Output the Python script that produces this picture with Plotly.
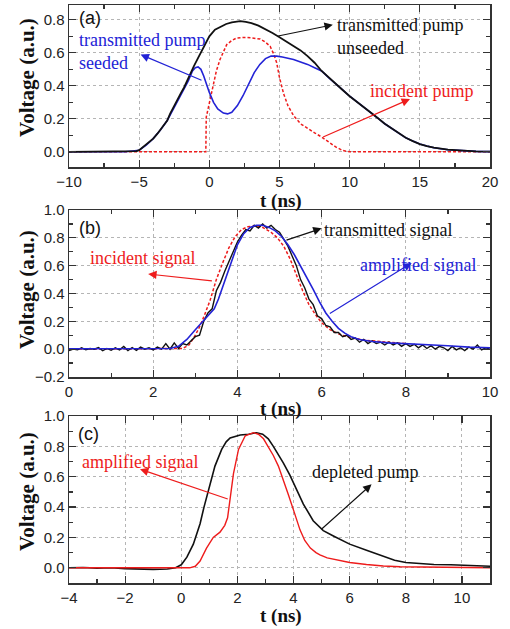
import plotly.graph_objects as go

# ---------------- Panel (a) ----------------
a_t_unseeded = [-10, -8, -6, -5.2, -5, -4.7, -4.4, -4, -3.7, -3.4, -3, -2.8, -2.4, -2, -1.8, -1.5, -1.1,
                -0.8, -0.5, -0.2, 0, 0.4, 0.8, 1.2, 1.6, 2, 2.2, 2.6, 3, 3.5, 4, 4.5, 5, 5.5, 6, 6.5,
                7, 7.5, 8, 8.5, 9, 9.5, 10, 10.5, 11, 11.5, 12, 12.5, 13, 13.5, 14, 14.5, 15, 15.5,
                16, 17, 18, 19, 20]
a_v_unseeded = [0, 0, 0.001, 0.004, 0.01, 0.03, 0.05, 0.08, 0.11, 0.145, 0.19, 0.23, 0.3, 0.36, 0.39,
                0.45, 0.52, 0.57, 0.62, 0.67, 0.70, 0.74, 0.76, 0.775, 0.785, 0.79, 0.792, 0.788, 0.78,
                0.765, 0.745, 0.72, 0.695, 0.67, 0.64, 0.615, 0.58, 0.54, 0.49, 0.45, 0.415, 0.375,
                0.337, 0.305, 0.27, 0.24, 0.205, 0.17, 0.14, 0.11, 0.085, 0.065, 0.047, 0.035, 0.025,
                0.013, 0.006, 0.003, 0.001]

a_t_seeded = [-10, -6, -5, -4.5, -4, -3.5, -3, -2.5, -2, -1.5, -1.2, -1, -0.8, -0.6, -0.4, -0.2, 0,
              0.3, 0.6, 1, 1.3, 1.6, 2, 2.4, 2.8, 3.2, 3.6, 4, 4.4, 4.8, 5.2, 5.5, 6, 6.5, 7, 7.5, 8,
              8.5, 9, 9.5, 10, 10.5, 11, 11.5, 12, 12.5, 13, 13.5, 14, 14.5, 15, 15.5, 16, 17, 18, 19, 20]
a_v_seeded = [0, 0, 0.01, 0.04, 0.08, 0.13, 0.19, 0.27, 0.35, 0.43, 0.49, 0.51, 0.515, 0.5, 0.46, 0.41,
              0.36, 0.3, 0.26, 0.235, 0.23, 0.24, 0.28, 0.34, 0.41, 0.48, 0.53, 0.565, 0.58, 0.58,
              0.575, 0.57, 0.56, 0.545, 0.53, 0.51, 0.49, 0.45, 0.415, 0.375, 0.337, 0.305, 0.27,
              0.24, 0.205, 0.17, 0.14, 0.11, 0.085, 0.065, 0.047, 0.035, 0.025, 0.013, 0.006, 0.003, 0.001]

a_t_incident = [-10, -0.25, -0.22, 0, 0.29, 0.5, 0.76, 1.0, 1.24, 1.6, 1.95, 2.67, 3.2, 3.62, 4.0, 4.33,
                4.6, 4.8, 5.0, 5.3, 5.6, 6, 6.5, 7, 7.5, 8, 8.5, 9, 9.5, 10, 20]
a_v_incident = [0, 0, 0.21, 0.3, 0.4, 0.49, 0.56, 0.61, 0.65, 0.675, 0.69, 0.694, 0.69, 0.684, 0.665,
                0.64, 0.59, 0.54, 0.45, 0.35, 0.28, 0.22, 0.17, 0.14, 0.115, 0.09, 0.06, 0.03, 0.008, 0, 0]

# ---------------- Panel (b) ----------------
b_t_incident = [0, 2.5, 2.7, 2.85, 3.0, 3.1, 3.2, 3.35, 3.5, 3.65, 3.8, 3.95, 4.1, 4.25, 4.4, 4.6, 4.8,
                4.95, 5.1, 5.25, 5.4, 5.55, 5.7, 5.85, 6.0, 6.2, 6.4, 6.6, 7.0, 7.5, 8.0]
b_v_incident = [0, 0, 0.005, 0.03, 0.1, 0.16, 0.23, 0.35, 0.5, 0.62, 0.73, 0.81, 0.86, 0.88, 0.885,
                0.875, 0.84, 0.8, 0.74, 0.65, 0.53, 0.42, 0.32, 0.25, 0.19, 0.14, 0.11, 0.09, 0.065,
                0.05, 0.04]

b_t_amplified = [0, 1, 2, 2.4, 2.6, 2.8, 3.0, 3.2, 3.35, 3.45, 3.55, 3.7, 3.85, 4.0, 4.15, 4.3, 4.45,
                 4.6, 4.75, 4.9, 5.05, 5.2, 5.35, 5.5, 5.65, 5.8, 5.95, 6.1, 6.25, 6.4, 6.55, 6.7, 6.9,
                 7.2, 7.6, 8, 8.5, 9, 9.5, 10]
b_v_amplified = [0.003, 0.003, 0.003, 0.005, 0.02, 0.07, 0.14, 0.21, 0.26, 0.29, 0.36, 0.49, 0.63, 0.75,
                 0.83, 0.875, 0.89, 0.89, 0.875, 0.85, 0.81, 0.75, 0.68, 0.6, 0.52, 0.43, 0.34, 0.26,
                 0.2, 0.15, 0.115, 0.09, 0.07, 0.055, 0.045, 0.04, 0.033, 0.025, 0.015, 0.01]

b_t_transmitted = [round(i * 0.1, 1) for i in range(101)]
b_v_transmitted = [-0.01, 0.0, -0.005, 0.01, -0.005, 0.005, 0.0, 0.012, -0.01, 0.005,
                   -0.008, 0.01, -0.005, 0.02, -0.01, 0.012, -0.008, 0.015, 0.0, 0.01,
                   -0.005, 0.015, 0.0, 0.04, 0.0, 0.045, 0.005, 0.04, 0.03, 0.06,
                   0.09, 0.1, 0.2, 0.26, 0.29, 0.42, 0.48, 0.56, 0.63, 0.7,
                   0.77, 0.82, 0.86, 0.85, 0.89, 0.87, 0.9, 0.87, 0.89, 0.86,
                   0.84, 0.79, 0.74, 0.67, 0.6, 0.5, 0.44, 0.36, 0.32, 0.24,
                   0.22, 0.17, 0.16, 0.12, 0.12, 0.09, 0.1, 0.07, 0.08, 0.05,
                   0.07, 0.04, 0.06, 0.04, 0.05, 0.03, 0.05, 0.03, 0.045, 0.02,
                   0.04, 0.02, 0.035, 0.01, 0.03, 0.005, 0.025, 0.0, 0.02, 0.01,
                   -0.01, 0.02, -0.005, 0.01, -0.01, 0.015, 0.0, 0.03, -0.005, 0.01, 0.0]

# ---------------- Panel (c) ----------------
c_t_pump = [-4, -3.5, -3, -2.5, -2, -1.5, -1, -0.5, -0.2, 0, 0.2, 0.43, 0.67, 0.81, 1.02, 1.2, 1.44,
            1.6, 1.74, 2.1, 2.4, 2.68, 2.9, 3.1, 3.28, 3.64, 3.87, 4.11, 4.35, 4.7, 5.06, 5.42, 6.0,
            6.6, 7.2, 7.6, 8.0, 8.4, 9.0, 9.6, 10.2, 11]
c_v_pump = [0.0, 0.002, -0.002, 0.0, -0.005, -0.008, -0.01, -0.008, 0.0, 0.02, 0.07, 0.156, 0.29,
            0.4, 0.54, 0.67, 0.78, 0.83, 0.855, 0.875, 0.88, 0.89, 0.88, 0.85, 0.8, 0.69, 0.61,
            0.51, 0.42, 0.31, 0.245, 0.21, 0.156, 0.116, 0.075, 0.05, 0.035, 0.028, 0.022, 0.02,
            0.016, 0.01]

c_t_signal = [-4, 0.3, 0.5, 0.67, 0.9, 1.14, 1.38, 1.55, 1.65, 1.74, 1.86, 2.04, 2.28, 2.57, 2.75,
              2.93, 3.1, 3.28, 3.46, 3.64, 3.82, 4.0, 4.12, 4.23, 4.4, 4.6, 4.8, 4.94, 5.2, 5.42, 6,
              6.6, 7.2, 7.8, 9, 11]
c_v_signal = [0, 0, 0.01, 0.045, 0.13, 0.2, 0.235, 0.28, 0.33, 0.45, 0.62, 0.78, 0.87, 0.89, 0.88,
              0.85, 0.8, 0.74, 0.67, 0.58, 0.48, 0.38, 0.31, 0.25, 0.18, 0.13, 0.1, 0.085, 0.065,
              0.056, 0.035, 0.022, 0.012, 0.007, 0.003, 0]

BLACK = "#111111"
BLUE = "#2323d6"
RED = "#ee1c1c"

fig = go.Figure()

def line(x, y, color, xa, ya, dash="solid", width=1.6):
    fig.add_trace(go.Scatter(x=x, y=y, mode="lines", xaxis=xa, yaxis=ya,
                             line=dict(color=color, width=width, dash=dash), showlegend=False,
                             hoverinfo="skip"))

line(a_t_incident, a_v_incident, RED, "x", "y", dash="3px,2px", width=1.5)
line(a_t_seeded, a_v_seeded, BLUE, "x", "y")
line(a_t_unseeded, a_v_unseeded, BLACK, "x", "y", width=1.8)

line(b_t_incident, b_v_incident, RED, "x2", "y2", dash="3px,2px", width=1.5)
line(b_t_transmitted, b_v_transmitted, BLACK, "x2", "y2", width=1.4)
line(b_t_amplified, b_v_amplified, BLUE, "x2", "y2")

line(c_t_pump, c_v_pump, BLACK, "x3", "y3", width=1.6)
line(c_t_signal, c_v_signal, RED, "x3", "y3", width=1.4)

XD = [69 / 510, 490 / 510]
def ydom(top, bot):
    return [1 - bot / 629, 1 - top / 629]

tickfont = dict(family="Liberation Sans, Arial, sans-serif", size=15, color="#222")
common = dict(showline=True, mirror="allticks", linecolor="#333", linewidth=1.5,
              ticks="inside", ticklen=7, tickwidth=1.2, tickcolor="#333",
              showgrid=True, gridcolor="#b5b5b5", griddash="dot", gridwidth=1,
              zeroline=False, tickfont=tickfont, automargin=False)
minor_x = lambda d: dict(dtick=d, ticks="inside", ticklen=4, tickcolor="#333", showgrid=False)

fig.update_layout(
    width=510, height=629, margin=dict(l=0, r=0, t=0, b=0, autoexpand=False),
    paper_bgcolor="white", plot_bgcolor="white",
    xaxis=dict(domain=XD, anchor="y", range=[-10, 20], tick0=-10, dtick=5, minor=minor_x(2.5), **common),
    yaxis=dict(domain=ydom(5, 167), anchor="x", range=[-0.092, 0.89], tick0=0, dtick=0.2,
               tickformat=".1f", minor=minor_x(0.1), **common),
    xaxis2=dict(domain=XD, anchor="y2", range=[0, 10], tick0=0, dtick=2, minor=minor_x(1), **common),
    yaxis2=dict(domain=ydom(210, 377), anchor="x2", range=[-0.2, 1.0], tick0=0, dtick=0.2,
                tickformat=".1f", minor=minor_x(0.1), **common),
    xaxis3=dict(domain=XD, anchor="y3", range=[-4, 11], tick0=0, dtick=2, minor=minor_x(1), **common),
    yaxis3=dict(domain=ydom(416, 583), anchor="x3", range=[-0.1, 1.0], tick0=0, dtick=0.2,
                tickformat=".1f", minor=minor_x(0.1), **common),
)

SERIF = "Liberation Serif, Times New Roman, serif"
SANS = "Liberation Sans, Arial, sans-serif"
anns = []

def text(x, y, s, color, xr, yr, family=SERIF, size=18, xanchor="left"):
    anns.append(dict(x=x, y=y, xref=xr, yref=yr, text=s, showarrow=False, xanchor=xanchor,
                     yanchor="middle", align="left", font=dict(family=family, size=size, color=color)))

def arrow(tx, ty, hx, hy, color, xr, yr):
    anns.append(dict(x=hx, y=hy, ax=tx, ay=ty, xref=xr, yref=yr, axref=xr, ayref=yr, text="",
                     showarrow=True, arrowhead=2, arrowsize=1.4, arrowwidth=1.2, arrowcolor=color,
                     standoff=0, startstandoff=0))

# panel (a)
text(-8.5, 0.81, "(a)", BLACK, "x", "y", family=SANS, size=18, xanchor="center")
text(8.96, 0.70, "transmitted pump<br>unseeded", BLACK, "x", "y")
text(-9.43, 0.61, "transmitted pump<br>seeded", BLUE, "x", "y")
text(11.3, 0.366, "incident pump", RED, "x", "y")
arrow(4.8, 0.70, 8.8, 0.77, BLACK, "x", "y")
arrow(-0.45, 0.43, -4.9, 0.59, BLUE, "x", "y")
arrow(8.0, 0.086, 14.3, 0.32, RED, "x", "y")

# panel (b)
text(0.5, 0.87, "(b)", BLACK, "x2", "y2", family=SANS, size=18, xanchor="center")
text(6.01, 0.856, "transmitted signal", BLACK, "x2", "y2")
text(0.45, 0.655, "incident signal", RED, "x2", "y2")
text(6.86, 0.604, "amplified signal", BLUE, "x2", "y2")
arrow(5.13, 0.78, 6.0, 0.868, BLACK, "x2", "y2")
arrow(3.43, 0.49, 1.88, 0.54, RED, "x2", "y2")
arrow(6.16, 0.25, 8.14, 0.62, BLUE, "x2", "y2")

# panel (c)
text(-3.32, 0.88, "(c)", BLACK, "x3", "y3", family=SANS, size=18, xanchor="center")
text(-3.61, 0.70, "amplified signal", RED, "x3", "y3")
text(4.59, 0.633, "depleted pump", BLACK, "x3", "y3")
arrow(1.71, 0.45, -1.47, 0.65, RED, "x3", "y3")
arrow(4.94, 0.245, 6.78, 0.55, BLACK, "x3", "y3")

# axis titles
for yc in (78, 290, 492):
    anns.append(dict(x=27 / 510, y=1 - yc / 629, xref="paper", yref="paper", text="<b>Voltage (a.u.)</b>",
                     showarrow=False, textangle=-90, xanchor="center", yanchor="middle",
                     font=dict(family=SERIF, size=21, color="#111")))
for yc in (201, 409, 616):
    anns.append(dict(x=281 / 510, y=1 - yc / 629, xref="paper", yref="paper", text="<b>t (ns)</b>",
                     showarrow=False, xanchor="center", yanchor="middle",
                     font=dict(family=SERIF, size=19, color="#111")))

fig.update_layout(annotations=anns)
fig.write_html("out.html", config={"displayModeBar": False, "staticPlot": True},
               post_script="document.body.style.margin='0px';document.body.style.overflow='hidden';")
